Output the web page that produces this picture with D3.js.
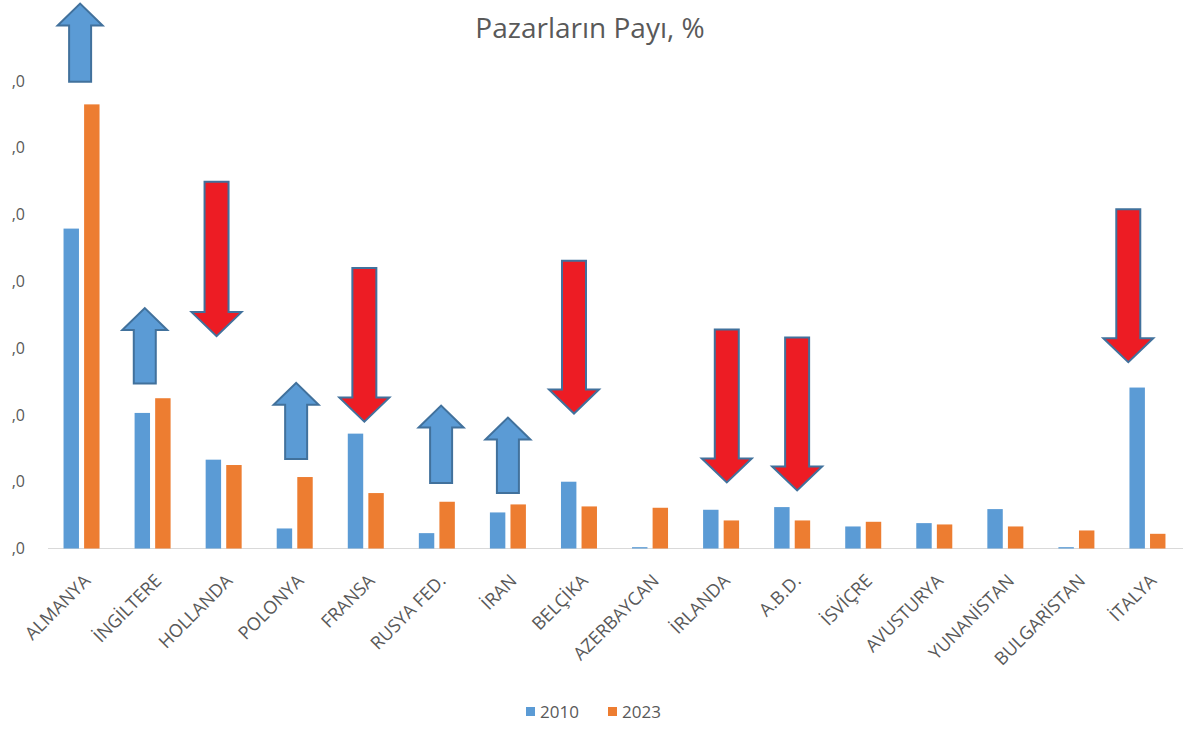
<!DOCTYPE html>
<html>
<head>
<meta charset="utf-8">
<script src="https://cdn.jsdelivr.net/npm/d3@7"></script>
<style>
  body { margin: 0; background: #fff; }
  text { font-family: "Open Sans", sans-serif; fill: #595959; }
</style>
</head>
<body>
<div id="chart"></div>
<script>
const categories = ["ALMANYA", "İNGİLTERE", "HOLLANDA", "POLONYA", "FRANSA", "RUSYA FED.", "İRAN", "BELÇİKA",
    "AZERBAYCAN", "İRLANDA", "A.B.D.", "İSVİÇRE", "AVUSTURYA", "YUNANİSTAN", "BULGARİSTAN", "İTALYA"];
const years = ["2010", "2023"];
const values2010 = [4.79, 2.03, 1.33, 0.30, 1.72, 0.23, 0.54, 1.00, 0.02, 0.58, 0.62, 0.33, 0.38, 0.59, 0.02, 2.41];
const values2023 = [6.65, 2.25, 1.25, 1.07, 0.83, 0.70, 0.66, 0.63, 0.61, 0.42, 0.42, 0.40, 0.36, 0.33, 0.27, 0.22];
const yTicks = [0, 1, 2, 3, 4, 5, 6, 7];
// change arrows: category, direction, from value, to value (tip)
const arrows = [
    { cat: "ALMANYA", dir: "up", from: 6.99, to: 8.16, shift: -0.02 },
    { cat: "İNGİLTERE", dir: "up", from: 2.47, to: 3.60, shift: -0.11 },
    { cat: "HOLLANDA", dir: "down", from: 5.49, to: 3.18, shift: -0.10 },
    { cat: "POLONYA", dir: "up", from: 1.34, to: 2.48, shift: 0.02 },
    { cat: "FRANSA", dir: "down", from: 4.20, to: 1.90, shift: -0.02 },
    { cat: "RUSYA FED.", dir: "up", from: 0.98, to: 2.14, shift: 0.06 },
    { cat: "İRAN", dir: "up", from: 0.83, to: 1.96, shift: 0 },
    { cat: "BELÇİKA", dir: "down", from: 4.31, to: 2.02, shift: -0.07 },
    { cat: "İRLANDA", dir: "down", from: 3.28, to: 0.99, shift: 0.08 },
    { cat: "A.B.D.", dir: "down", from: 3.16, to: 0.87, shift: 0.07 },
    { cat: "İTALYA", dir: "down", from: 5.08, to: 2.79, shift: -0.27 }
];

const width = 1198, height = 729;
const colors = { "2010": "#5b9bd5", "2023": "#ed7d31" };

const svg = d3.select("#chart").append("svg")
    .attr("width", width)
    .attr("height", height);

const x0 = d3.scaleBand().domain(categories).range([46, 1183]);
const x1 = d3.scaleBand().domain(years)
    .range([x0.bandwidth() / 2 - 18, x0.bandwidth() / 2 + 18])
    .paddingInner(0.25);
const y = d3.scaleLinear().domain([0, 7]).range([548.5, 81]);

// title
svg.append("text")
    .attr("x", 590).attr("y", 38)
    .attr("text-anchor", "middle")
    .style("font-size", "28px")
    .text("Pazarların Payı, %");

// y axis labels (cropped leading digit as in the source)
svg.selectAll(".ytick").data(yTicks).enter()
    .append("text")
    .attr("class", "ytick")
    .attr("x", 25)
    .attr("y", d => y(d))
    .attr("dy", "0.35em")
    .attr("text-anchor", "end")
    .style("font-size", "16px")
    .text(",0");

// baseline
svg.append("line")
    .attr("x1", 48).attr("x2", 1183)
    .attr("y1", y(0)).attr("y2", y(0))
    .style("stroke", "#d9d9d9")
    .style("stroke-width", 1);

const rows = categories.map((c, i) => ({ cat: c, "2010": values2010[i], "2023": values2023[i] }));

const groups = svg.selectAll(".grp").data(rows).enter()
    .append("g")
    .attr("class", "grp")
    .attr("transform", d => `translate(${x0(d.cat)},0)`);

groups.selectAll("rect")
    .data(d => years.map(k => ({ key: k, value: d[k] })))
    .enter().append("rect")
    .attr("x", d => x1(d.key))
    .attr("width", x1.bandwidth())
    .attr("y", d => y(d.value))
    .attr("height", d => y(0) - y(d.value))
    .attr("fill", d => colors[d.key]);

// category labels
svg.selectAll(".xlab").data(categories).enter()
    .append("text")
    .attr("class", "xlab")
    .attr("transform", d => `translate(${x0(d) + x0.bandwidth() / 2 + 10},582) rotate(-45)`)
    .attr("text-anchor", "end")
    .style("font-size", "18px")
    .text(d => d);

// arrows
function arrowPath(cx, yFrom, yTip, shaftW, headW, headH) {
    const s = yTip < yFrom ? 1 : -1; // up: tip above
    const base = yTip + s * headH;
    return `M${cx - shaftW / 2},${yFrom} L${cx - shaftW / 2},${base} L${cx - headW / 2},${base} ` +
        `L${cx},${yTip} L${cx + headW / 2},${base} L${cx + shaftW / 2},${base} L${cx + shaftW / 2},${yFrom} Z`;
}

svg.selectAll(".arrow").data(arrows).enter()
    .append("path")
    .attr("class", "arrow")
    .attr("d", d => {
        const cx = x0(d.cat) + x0.bandwidth() * (0.5 + d.shift);
        return d.dir === "up"
            ? arrowPath(cx, y(d.from), y(d.to), 22, 45, 22)
            : arrowPath(cx, y(d.from), y(d.to), 24, 50, 24);
    })
    .attr("fill", d => d.dir === "up" ? "#5b9bd5" : "#ed1c24")
    .attr("stroke", "#41719c")
    .attr("stroke-width", 2)
    .attr("stroke-linejoin", "miter");

// legend
const legend = svg.append("g").attr("transform", "translate(526,703)");
years.forEach((k, i) => {
    const g = legend.append("g").attr("transform", `translate(${i * 82},0)`);
    g.append("rect").attr("width", 9).attr("height", 9).attr("y", 4).attr("fill", colors[k]);
    g.append("text").attr("x", 14).attr("y", 9).attr("dy", "0.35em")
        .style("font-size", "17px").text(k);
});
</script>
</body>
</html>
